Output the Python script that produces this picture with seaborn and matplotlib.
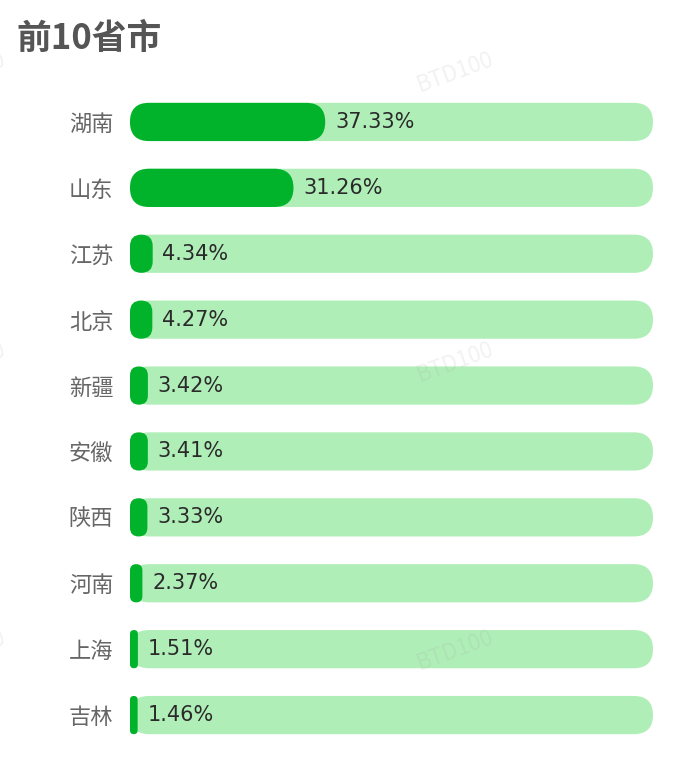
import matplotlib
matplotlib.use("Agg")
import matplotlib.pyplot as plt
import matplotlib.transforms as mtransforms
from matplotlib.patches import FancyBboxPatch
import seaborn as sns
import pandas as pd

# top 10 provinces by share (%)
provinces = ["湖南", "山东", "江苏", "北京", "新疆", "安徽", "陕西", "河南", "上海", "吉林"]
shares = [37.33, 31.26, 4.34, 4.27, 3.42, 3.41, 3.33, 2.37, 1.51, 1.46]
track_max = 100
title = "前10省市"
watermark = "BTD100"

sns.set_theme(style="white")
plt.rcParams['font.family'] = ['Noto Sans CJK SC', 'DejaVu Sans']

df = pd.DataFrame({"province": provinces, "share": shares,
                   "track": [track_max] * len(provinces)})

W, H = 687, 762
fig = plt.figure(figsize=(W / 100, H / 100), dpi=100)
ax = fig.add_axes([130 / W, 14 / H, 523 / W, 659 / H])

sns.barplot(data=df, x="track", y="province", color="#b0eeb8", width=0.58,
            saturation=1, ax=ax)
sns.barplot(data=df, x="share", y="province", color="#00b32a", width=0.58,
            saturation=1, ax=ax)
ax.set_xlim(0, track_max)
ax.set_ylim(len(provinces) - 0.5, -0.5)

# swap the square bars for rounded ones drawn in pixel space
for z, p in enumerate(list(ax.patches)):
    bb = p.get_window_extent()
    r = min(bb.height / 2, bb.width / 2)
    rounded = FancyBboxPatch((bb.x0, bb.y0), bb.width, bb.height,
                             boxstyle=f"round,pad=0,rounding_size={r}",
                             transform=mtransforms.IdentityTransform(),
                             facecolor=p.get_facecolor(), edgecolor="none",
                             zorder=2 + z * 0.001, clip_on=False)
    p.remove()
    ax.add_artist(rounded)

for i, v in enumerate(shares):
    ax.annotate(f"{v:.2f}%", (v, i), xytext=(7, 0), textcoords="offset points",
                va="center", ha="left", fontsize=15, color="#2a2a2a",
                family=["DejaVu Sans"], zorder=5)

for s in ax.spines.values():
    s.set_visible(False)
ax.set_xticks([])
ax.set_xlabel("")
ax.set_ylabel("")
ax.tick_params(axis="y", length=0, pad=12, labelsize=16, labelcolor="#666666")

fig.text(16 / W, 1 - 38 / H, title, fontsize=25, fontweight="bold",
         color="#555555", va="center", ha="left")

for yy in [72, 362, 650]:
    for xx in [455, -33]:
        fig.text(xx / W, 1 - yy / H, watermark, rotation=20, fontsize=16,
                 color="#999999", alpha=0.13, ha="center", va="center", zorder=10)

fig.savefig("out.png", dpi=100, facecolor="white")
